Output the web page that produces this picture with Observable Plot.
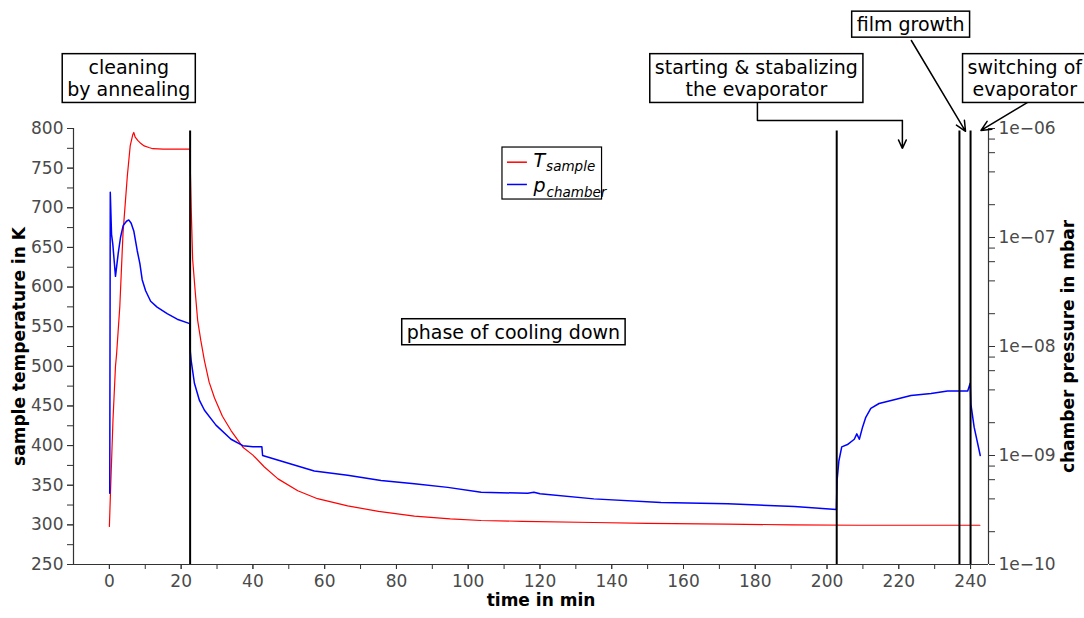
<!DOCTYPE html>
<html><head><meta charset="utf-8">
<script src="https://cdn.jsdelivr.net/npm/d3@7"></script>
<script src="https://cdn.jsdelivr.net/npm/@observablehq/plot@0.6"></script>
<style>
body{margin:0;background:#fff}
g[aria-label$="tick label"], g[aria-label$="tick label"] text { font-size: 17px !important; }
</style>
</head><body><div id="chart"></div>
<script>
// ---- data ----
const tempTime = [0.0,0.3,1.0,1.7,2.0,2.9,3.8,5.0,5.8,6.5,6.8,7.2,7.9,8.8,9.7,11.0,12.1,15,22.4,22.6,22.8,23.2,24.0,24.6,25.5,26.5,27.8,29.3,31.5,33.9,37.2,40,43.2,47,52.5,58,66.4,75,85,95,103.6,115,135,150,172,190,209,225,242.6];
const tempK    = [298,340,432,500,515,575,668,740,778,792,795,789,785,781,778,776,774.5,774,774,740,700,635,590,558,532,507,480,460,437,419,398,388,373,358,343,333,324,317,311,307.5,305.5,304.5,303,302,301,300,299.5,299.5,299.5];

const pressTime = [0.1,0.25,0.6,0.95,1.7,2.45,3.1,3.85,4.77,5.4,6.07,6.8,7.75,8.5,9.14,10.1,11.5,13.3,16.1,18.9,22.4,22.55,22.8,23.7,25.1,26.5,29.7,33.9,37.2,40,42.5,42.7,47.8,57.1,66.4,75.7,85,94.3,103.6,116.6,118.3,120,135,153.7,172.3,190.9,202.6,202.8,203.3,204.1,205.7,207.6,208.3,209,209.9,210.8,212.2,214.5,218.7,223.4,229,233.6,239.2,239.9,240.1,241,242.7];
const pressMbar = [4.5e-10,2.6e-7,1.07e-7,8.7e-8,4.4e-8,7.1e-8,1.0e-7,1.29e-7,1.41e-7,1.45e-7,1.35e-7,1.15e-7,7.6e-8,5.75e-8,4.1e-8,3.25e-8,2.6e-8,2.3e-8,2.0e-8,1.78e-8,1.62e-8,9.0e-9,7.4e-9,4.6e-9,3.2e-9,2.6e-9,1.9e-9,1.41e-9,1.23e-9,1.2e-9,1.2e-9,1.0e-9,8.9e-10,7.2e-10,6.6e-10,5.9e-10,5.5e-10,5.1e-10,4.6e-10,4.5e-10,4.6e-10,4.45e-10,4.0e-10,3.7e-10,3.6e-10,3.4e-10,3.2e-10,5.9e-10,8.9e-10,1.2e-9,1.26e-9,1.41e-9,1.58e-9,1.41e-9,1.82e-9,2.24e-9,2.7e-9,3.0e-9,3.24e-9,3.55e-9,3.7e-9,3.9e-9,3.9e-9,4.6e-9,2.95e-9,1.82e-9,1.0e-9];

const eventTimes = [22.5, 202.7, 236.9, 240.0];

const xTickLabels = [0,20,40,60,80,100,120,140,160,180,200,220,240];
const xMinorTicks = [0,10,20,30,40,50,60,70,80,90,100,110,120,130,140,150,160,170,180,190,200,210,220,230,240];
const tempTickLabels = [250,300,350,400,450,500,550,600,650,700,750,800];
const tempMinorTicks = [250,275,300,325,350,375,400,425,450,475,500,525,550,575,600,625,650,675,700,725,750,775,800];
const pressDecades = [1e-10,1e-9,1e-8,1e-7,1e-6];
const pressTickLabels = ["1e\u221210","1e\u221209","1e\u221208","1e\u221207","1e\u221206"];
const pressMinorMultipliers = [2,4,6,8];

const legendNames = [{main: "T", sub: "sample", color: "#ff0000"}, {main: "p", sub: "chamber", color: "#0000ff"}];

const notes = [
  {text: "cleaning\nby annealing", x: 5.4, y: 864},
  {text: "phase of cooling down", x: 112.6, y: 544},
  {text: "starting & stabalizing\nthe evaporator", x: 180.3, y: 864},
  {text: "film growth", x: 223.3, y: 932},
  {text: "switching of\nevaporator", x: 255.1, y: 864}
];
const elbow = [{x: 180.6, y: 832}, {x: 180.6, y: 810.1}, {x: 221.0, y: 810.1}];
const arrows = [
  {x1: 221.0, y1: 810.1, x2: 221.0, y2: 775},
  {x1: 223.5, y1: 911, x2: 238.6, y2: 796.5},
  {x1: 255.9, y1: 833, x2: 242.9, y2: 797.5}
];

// ---- helpers ----
const tempDomain = [250, 800];
const logDomain = [-10, -6];
const pToY = p => tempDomain[0] + (Math.log10(p) - logDomain[0]) / (logDomain[1] - logDomain[0]) * (tempDomain[1] - tempDomain[0]);

const tempData = tempTime.map((t, i) => ({t, v: tempK[i]}));
const pressData = pressTime.map((t, i) => ({t, p: pressMbar[i]}));
const decadeY = pressDecades.map(pToY);
const decadeLabel = new Map(decadeY.map((y, i) => [y, pressTickLabels[i]]));
const minorY = [];
pressDecades.slice(0, -1).forEach(d => pressMinorMultipliers.forEach(m => minorY.push(pToY(d * m))));

const legendRows = legendNames.map((d, i) => ({...d, lineY: [757.5, 729.4][i], textY: [759.6, 728.1][i], subDy: [4, 5][i]}));

const axisColor = "#333";
const labelColor = "#4a4a4a";

const chart = Plot.plot({
  width: 1084, height: 618,
  marginLeft: 73, marginRight: 96, marginTop: 128, marginBottom: 54,
  style: {fontFamily: "DejaVu Sans", fontSize: "16px", background: "white"},
  x: {domain: [-10, 245]},
  y: {domain: tempDomain},
  marks: [
    // axes
    Plot.axisX(xMinorTicks, {tickSize: 5, tickFormat: () => "", stroke: axisColor, label: null}),
    Plot.axisX(xTickLabels, {tickSize: 5, tickPadding: 5, fill: labelColor, stroke: axisColor, label: null}),
    Plot.axisY(tempMinorTicks, {anchor: "left", tickSize: 6, tickFormat: () => "", stroke: axisColor, label: null}),
    Plot.axisY(tempTickLabels, {anchor: "left", tickSize: 6, tickPadding: 4, fill: labelColor, stroke: axisColor, label: null}),
    Plot.axisY(minorY, {anchor: "right", tickSize: 6, tickFormat: () => "", stroke: axisColor, label: null}),
    Plot.axisY(decadeY, {anchor: "right", tickSize: 6, tickPadding: 4, tickFormat: d => decadeLabel.get(d), fill: labelColor, stroke: axisColor, label: null}),
    Plot.ruleY([250], {stroke: axisColor, strokeWidth: 1.2}),
    Plot.ruleX([-10], {stroke: axisColor, strokeWidth: 1.2}),
    Plot.ruleX([245], {stroke: axisColor, strokeWidth: 1.2}),
    // axis titles
    Plot.text(["time in min"], {frameAnchor: "bottom", textAnchor: "middle", dx: 10, dy: 41, fontSize: 17, fontWeight: "bold", fill: "black"}),
    Plot.text(["sample temperature in K"], {frameAnchor: "left", textAnchor: "middle", dx: -54, rotate: -90, fontSize: 17, fontWeight: "bold", fill: "black"}),
    Plot.text(["chamber pressure in mbar"], {frameAnchor: "right", textAnchor: "middle", dx: 80, rotate: -90, fontSize: 17, fontWeight: "bold", fill: "black"}),
    // data
    Plot.line(tempData, {x: "t", y: "v", stroke: "#ff0000", strokeWidth: 1.2}),
    Plot.line(pressData, {x: "t", y: d => pToY(d.p), stroke: "#0000ff", strokeWidth: 1.5}),
    // event markers
    Plot.ruleX(eventTimes, {y1: 797, y2: 250, stroke: "black", strokeWidth: 2}),
    // legend
    Plot.rect([{x1: 109.55, x2: 137.3, y1: 710.4, y2: 776}], {x1: "x1", x2: "x2", y1: "y1", y2: "y2", fill: "white", stroke: "black", strokeWidth: 1.2}),
    Plot.ruleY(legendRows, {y: "lineY", x1: 110.95, x2: 116.5, stroke: "color", strokeWidth: 1.5}),
    Plot.text(legendRows, {x: 118.2, y: "textY", text: "main", textAnchor: "start", fontSize: 19, fontStyle: "italic", fill: "black"}),
    // annotations
    Plot.line(elbow, {x: "x", y: "y", stroke: "black", strokeWidth: 1.5}),
    Plot.arrow(arrows, {x1: "x1", y1: "y1", x2: "x2", y2: "y2", stroke: "black", strokeWidth: 1.5, headLength: 11, headAngle: 50}),
    Plot.text(notes, {x: "x", y: "y", text: "text", fontSize: 19, lineHeight: 1.2, fill: "black"})
  ]
});
document.getElementById("chart").append(chart);

const NS = "http://www.w3.org/2000/svg";
// legend subscripts as tspans of the same text element
chart.querySelectorAll("text").forEach(t => {
  const row = legendRows.find(r => r.main === t.textContent);
  if (!row) return;
  const ts = document.createElementNS(NS, "tspan");
  ts.setAttribute("font-size", "13.5");
  ts.setAttribute("dy", row.subDy);
  ts.setAttribute("dx", "1");
  ts.textContent = row.sub;
  t.appendChild(ts);
});

// draw boxes behind annotation texts
const noteKeys = new Set(notes.map(n => n.text.replace(/\n/g, "")));
chart.querySelectorAll("text").forEach(t => {
  if (!noteKeys.has(t.textContent)) return;
  const b = t.getBBox();
  const r = document.createElementNS(NS, "rect");
  r.setAttribute("x", b.x - 5);
  r.setAttribute("y", b.y - 2);
  r.setAttribute("width", b.width + 10);
  r.setAttribute("height", b.height + 4);
  r.setAttribute("fill", "white");
  r.setAttribute("stroke", "black");
  r.setAttribute("stroke-width", "1.5");
  const tr = t.getAttribute("transform");
  if (tr) r.setAttribute("transform", tr);
  t.parentNode.insertBefore(r, t);
});
</script></body></html>
